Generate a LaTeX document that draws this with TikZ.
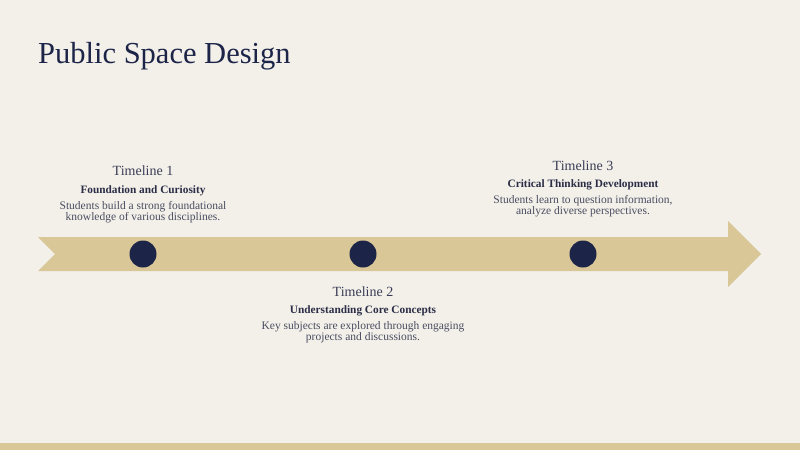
\documentclass[tikz,border=0pt]{standalone}
\usepackage{fontspec}
\setmainfont{Liberation Serif}
\definecolor{bg}{HTML}{F3F0EA}
\definecolor{sand}{HTML}{D9C797}
\definecolor{navy}{HTML}{1C2448}
\definecolor{labc}{HTML}{3A3D55}
\definecolor{headc}{HTML}{2A2D45}
\definecolor{descc}{HTML}{4A4D60}
\begin{document}
\begin{tikzpicture}[x=1pt,y=-1pt,
  dot/.style={circle,fill=navy,minimum size=27pt,inner sep=0pt},
  tlabel/.style={text=labc,font=\fontsize{14}{16}\selectfont,inner sep=0pt,anchor=base},
  thead/.style={text=headc,font=\fontsize{11.3}{12}\selectfont\bfseries,inner sep=0pt,anchor=base},
  tdesc/.style={text=descc,font=\fontsize{11.5}{11}\selectfont,inner sep=0pt,anchor=base,align=center}]
\fill[bg] (0,0) rectangle (800,450);
\useasboundingbox (0,0) rectangle (800,450);
\fill[sand] (0,443) rectangle (800,450);
\node[text=navy,font=\fontsize{30.5}{34}\selectfont,anchor=base west,inner sep=0pt] (title) at (38,63) {Public Space Design};
% arrow
\fill[sand] (38,237) -- (728,237) -- (728,221) -- (761,254) -- (728,287) -- (728,271) -- (38,271) -- (55,254) -- cycle;
\node[dot] (d1) at (143,254) {};
\node[dot] (d2) at (363,254) {};
\node[dot] (d3) at (583,254) {};
% timeline 1
\node[tlabel] (l1) at (143,175.5) {Timeline 1};
\node[thead] (h1) at (143,193.3) {Foundation and Curiosity};
\node[tdesc] (s1) at (143,220) {Students build a strong foundational\\knowledge of various disciplines.};
% timeline 3
\node[tlabel] (l3) at (583,170) {Timeline 3};
\node[thead] (h3) at (583,187) {Critical Thinking Development};
\node[tdesc] (s3) at (583,214.3) {Students learn to question information,\\analyze diverse perspectives.};
% timeline 2
\node[tlabel] (l2) at (363,296.7) {Timeline 2};
\node[thead] (h2) at (363,313.3) {Understanding Core Concepts};
\node[tdesc] (s2) at (363,340.7) {Key subjects are explored through engaging\\projects and discussions.};
\end{tikzpicture}
\end{document}
